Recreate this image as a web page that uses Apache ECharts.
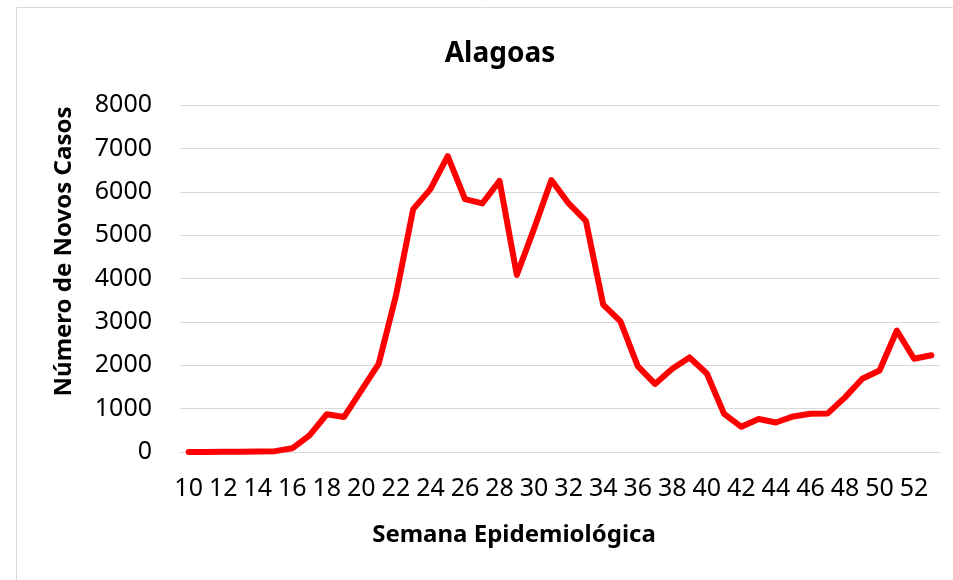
<!DOCTYPE html>
<html>
<head>
<meta charset="utf-8">
<title>Alagoas</title>
<script src="https://cdn.jsdelivr.net/npm/echarts@6/dist/echarts.min.js"></script>
<style>
    html, body { margin: 0; padding: 0; background: #fff; }
    #chart { width: 953px; height: 580px; }
</style>
</head>
<body>
<div id="chart"></div>
<script>
// semanas epidemiológicas 10..53
var semanas = [10, 11, 12, 13, 14, 15, 16, 17, 18, 19, 20, 21, 22, 23, 24, 25, 26, 27, 28, 29, 30, 31,
    32, 33, 34, 35, 36, 37, 38, 39, 40, 41, 42, 43, 44, 45, 46, 47, 48, 49, 50, 51, 52, 53];

// novos casos por semana
var novosCasos = [0, 0, 5, 5, 10, 20, 85, 385, 870, 808, 1420, 2030, 3600, 5600, 6060, 6820, 5830, 5730, 6250, 4080,
    5150, 6270, 5730, 5330, 3400, 3010, 1980, 1570, 1920, 2180, 1810, 880, 580, 760, 680, 820, 880, 890,
    1260, 1690, 1880, 2800, 2150, 2230];

var yTicks = [0, 1000, 2000, 3000, 4000, 5000, 6000, 7000, 8000];

var fonte = 'Noto Sans, Open Sans, sans-serif';

var chart = echarts.init(document.getElementById('chart'));

chart.setOption({
    backgroundColor: '#fff',
    animation: false,
    title: {
        text: 'Alagoas',
        left: 495,
        top: 35,
        textAlign: 'center',
        textStyle: {fontFamily: fonte, fontSize: 28, fontWeight: 'bold', color: '#000'}
    },
    graphic: [{
        type: 'rect',
        shape: {x: 16.5, y: 7.5, width: 960, height: 600},
        style: {fill: 'none', stroke: '#d9d9d9', lineWidth: 1},
        silent: true
    }],
    grid: {left: 180, right: 13, top: 105, bottom: 128},
    xAxis: {
        type: 'category',
        data: semanas,
        boundaryGap: true,
        axisLine: {lineStyle: {color: '#d9d9d9', width: 1}},
        axisTick: {show: false},
        axisLabel: {interval: 1, margin: 24, color: '#000', fontFamily: fonte, fontSize: 25},
        name: 'Semana Epidemiológica',
        nameLocation: 'middle',
        nameGap: 71,
        nameTextStyle: {fontFamily: fonte, fontSize: 24, fontWeight: 'bold', color: '#000', padding: [0, 92, 0, 0]}
    },
    yAxis: {
        type: 'value',
        min: yTicks[0],
        max: yTicks[yTicks.length - 1],
        interval: 1000,
        axisLine: {show: false},
        axisTick: {show: false},
        splitLine: {lineStyle: {color: '#d9d9d9', width: 1}},
        axisLabel: {
            margin: 28, color: '#000', fontFamily: fonte, fontSize: 25,
            formatter: function (v) { return String(v); }
        },
        name: 'Número de Novos Casos',
        nameLocation: 'middle',
        nameGap: 104,
        nameTextStyle: {fontFamily: fonte, fontSize: 24, fontWeight: 'bold', color: '#000', padding: [0, 0, 0, 54]}
    },
    series: [{
        type: 'line',
        data: novosCasos,
        symbol: 'none',
        lineStyle: {color: '#ff0000', width: 6, join: 'round', cap: 'round'}
    }]
});
</script>
</body>
</html>
